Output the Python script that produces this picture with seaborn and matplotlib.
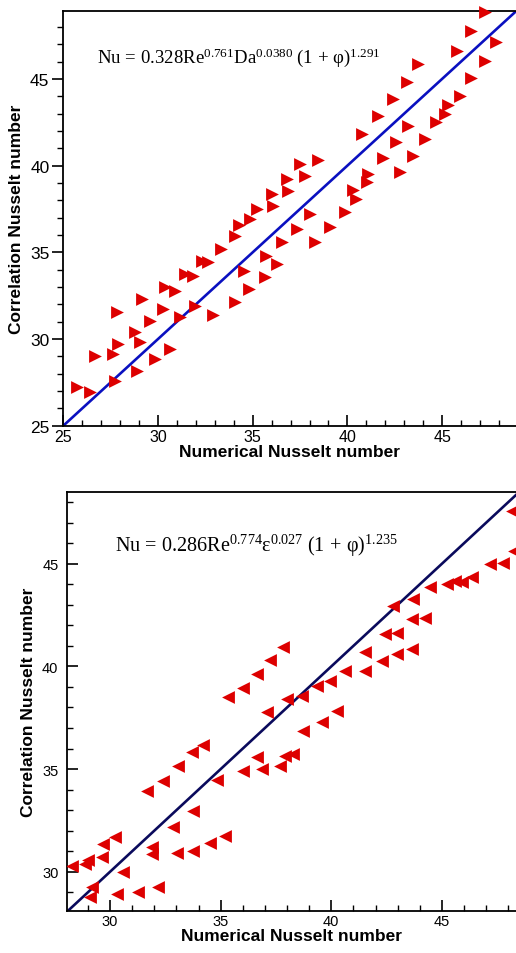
import numpy as np
import matplotlib
matplotlib.use("Agg")
import matplotlib.pyplot as plt
import seaborn as sns
from matplotlib.ticker import MultipleLocator

# ---- data: top panel (Darcy-number correlation) ----
top_numerical = [47.25, 46.55, 45.76, 47.87, 43.73, 47.25, 43.12, 46.55, 42.41, 45.93,
                 45.32, 45.14, 44.70, 41.62, 43.21, 44.09, 40.75, 42.59, 41.89, 43.47,
                 42.77, 41.10, 41.01, 40.30, 40.45, 39.87, 39.07, 38.46, 37.49, 37.75,
                 36.79, 36.87, 36.00, 36.08, 35.21, 34.85, 34.25, 38.02, 37.32, 34.06,
                 33.30, 32.30, 32.65, 31.42, 31.86, 30.37, 30.89, 29.14, 30.28, 29.58,
                 27.82, 28.78, 29.05, 27.90, 27.64, 26.67, 30.63, 29.84, 28.87, 27.73,
                 25.71, 26.41, 31.16, 31.95, 32.92, 34.06, 34.80, 35.64, 34.55, 35.69,
                 36.26, 36.52, 38.28]
top_correlation = [48.84, 47.78, 46.63, 47.11, 45.86, 46.05, 44.80, 45.03, 43.84, 44.03,
                   43.49, 42.98, 42.50, 42.84, 42.27, 41.53, 41.82, 41.34, 40.42, 40.57,
                   39.61, 39.52, 39.04, 38.61, 38.07, 37.31, 36.44, 40.34, 40.09, 39.42,
                   39.23, 38.55, 38.36, 37.69, 37.50, 36.92, 36.55, 37.21, 36.34, 35.96,
                   35.19, 34.52, 34.42, 33.75, 33.65, 32.98, 32.79, 32.31, 31.73, 31.06,
                   31.54, 30.39, 29.81, 29.71, 29.13, 29.04, 29.42, 28.85, 28.17, 27.60,
                   27.21, 26.93, 31.25, 31.89, 31.38, 32.12, 32.88, 33.60, 33.94, 34.80,
                   34.35, 35.58, 35.60]
top_parity = [25, 49]
top_equation = r"$\mathrm{Nu\,=\,0.328Re^{0.761}Da^{0.0380}\ (1\,+\,\varphi)^{1.291}}$"

# ---- data: bottom panel (porosity correlation) ----
bot_numerical = [48.16, 48.25, 47.18, 47.78, 46.35, 45.22, 45.60, 45.90, 44.47, 43.71,
                 42.81, 43.64, 44.24, 42.43, 42.96, 43.64, 42.96, 42.28, 41.53, 41.53,
                 40.62, 39.95, 39.34, 38.67, 37.99, 35.35, 36.03, 36.63, 37.23, 37.83,
                 37.08, 40.25, 39.57, 38.74, 37.91, 38.29, 36.63, 37.69, 36.86, 36.03,
                 34.82, 34.22, 33.69, 33.09, 32.41, 31.66, 33.77, 32.86, 35.20, 34.52,
                 33.77, 33.02, 31.88, 31.88, 30.23, 29.70, 29.62, 29.02, 28.87, 28.26,
                 30.60, 29.17, 29.10, 30.30, 31.28, 32.18]
bot_correlation = [47.58, 45.64, 44.99, 45.04, 44.34, 44.01, 44.17, 44.13, 43.85, 43.28,
                   42.96, 42.31, 42.34, 41.58, 41.63, 40.85, 40.60, 40.28, 40.69, 39.79,
                   39.79, 39.30, 39.06, 38.57, 38.41, 38.49, 38.93, 39.63, 40.31, 40.93,
                   37.79, 37.84, 37.30, 36.87, 35.65, 35.73, 35.57, 35.13, 35.00, 34.92,
                   34.48, 36.17, 35.85, 35.16, 34.43, 33.95, 32.97, 32.16, 31.72, 31.40,
                   31.02, 30.90, 31.19, 30.86, 31.68, 31.35, 30.70, 30.58, 30.38, 30.29,
                   29.97, 29.24, 28.75, 28.91, 29.00, 29.24]
bot_parity = [28, 49]
bot_equation = r"$\mathrm{Nu\,=\,0.286Re^{0.774}\varepsilon^{0.027}\ (1\,+\,\varphi)^{1.235}}$"

sns.set_style("ticks")
plt.rcParams["font.family"] = ["Liberation Sans", "DejaVu Sans"]
plt.rcParams["mathtext.fontset"] = "custom"
plt.rcParams["mathtext.rm"] = "Liberation Serif"
plt.rcParams["mathtext.it"] = "Liberation Serif:italic"
for key in ["text.color", "axes.labelcolor", "xtick.color", "ytick.color"]:
    plt.rcParams[key] = "black"

RED = "#dd0000"

fig = plt.figure(figsize=(5.16, 9.54), dpi=100)
ax1 = fig.add_axes([0.1227, 0.5527, 0.8773, 0.4350])
ax2 = fig.add_axes([0.1293, 0.0443, 0.8707, 0.4386])


def style_axis(ax, xdir, ydir, lab_size):
    for side in ["left", "bottom", "top"]:
        ax.spines[side].set_linewidth(1.3)
        ax.spines[side].set_color("black")
    ax.spines["right"].set_visible(False)
    ax.xaxis.set_minor_locator(MultipleLocator(1))
    ax.yaxis.set_minor_locator(MultipleLocator(1))
    ax.xaxis.set_major_locator(MultipleLocator(5))
    ax.yaxis.set_major_locator(MultipleLocator(5))
    ax.tick_params(axis="x", which="major", direction=xdir, length=8, width=1.2,
                   labelsize=lab_size[0], pad=2)
    ax.tick_params(axis="x", which="minor", direction=xdir, length=4, width=1.0)
    ax.tick_params(axis="y", which="major", direction=ydir, length=8, width=1.2,
                   labelsize=lab_size[1], pad=2)
    ax.tick_params(axis="y", which="minor", direction=ydir, length=4, width=1.0)
    ax.tick_params(top=False, right=False, which="both")
    ax.set_xlabel("Numerical Nusselt number", fontsize=12.5, fontweight="bold", labelpad=0)
    ax.set_ylabel("Correlation Nusselt number", fontsize=12.5, fontweight="bold", labelpad=4)


# top panel
sns.lineplot(x=top_parity, y=top_parity, color="#0a10c0", linewidth=1.9, ax=ax1)
sns.scatterplot(x=top_numerical, y=top_correlation, marker=">", s=85, color=RED,
                linewidth=0, ax=ax1, clip_on=False, zorder=3)
ax1.set_xlim(25, 48.9)
ax1.set_ylim(25, 48.93)
style_axis(ax1, "in", "out", (11.5, 12.5))
ax1.text(0.074, 0.876, top_equation, transform=ax1.transAxes, fontsize=13.5,
         ha="left", va="baseline")

# bottom panel
sns.lineplot(x=bot_parity, y=bot_parity, color="#0a0a5c", linewidth=1.9, ax=ax2)
sns.scatterplot(x=bot_numerical, y=bot_correlation, marker="<", s=85, color=RED,
                linewidth=0, ax=ax2, zorder=3)
ax2.set_xlim(28.04, 48.35)
ax2.set_ylim(28.1, 48.48)
style_axis(ax2, "in", "in", (10.5, 10.5))
ax2.tick_params(axis="y", which="major", pad=6)
ax2.text(0.1075, 0.860, bot_equation, transform=ax2.transAxes, fontsize=14.5,
         ha="left", va="baseline")

fig.savefig("out.png", dpi=100)
